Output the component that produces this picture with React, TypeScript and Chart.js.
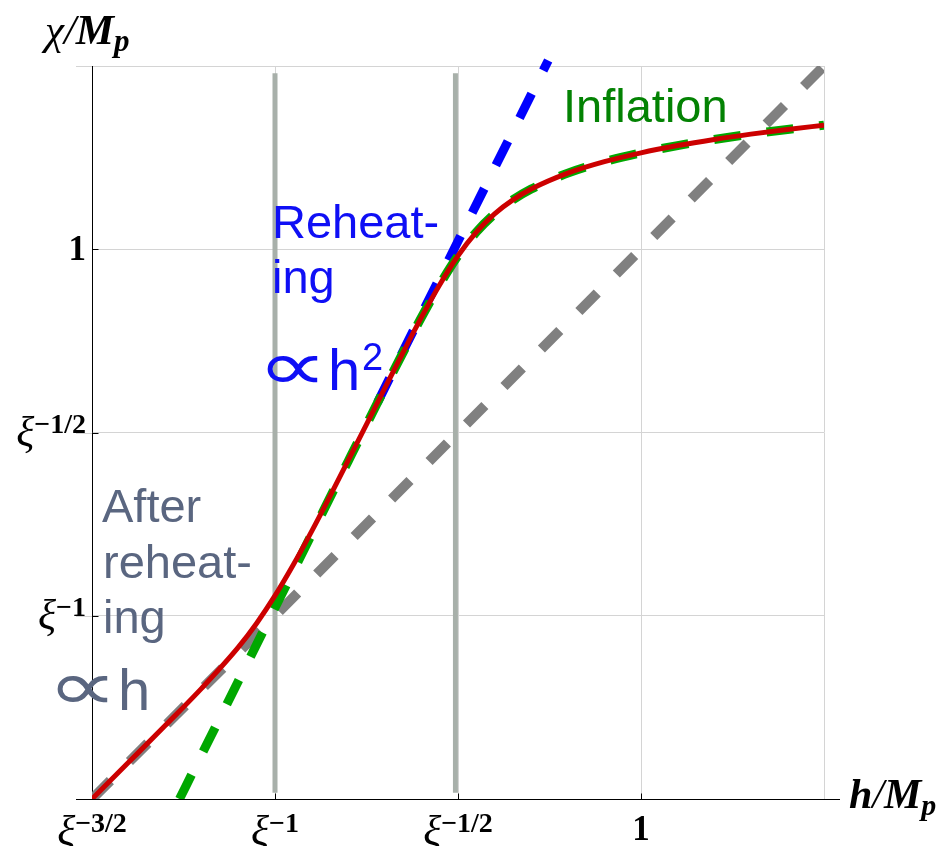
import React, { useEffect, useRef } from "react";
import { Chart, registerables } from "chart.js";
Chart.register(...registerables);

const W = 939;
const H = 846;

// Coordinates are exponents of ξ: value a means ξ^a (in Planck units)
const exactX = [-1.5, -1.4, -1.3, -1.2, -1.1, -1.05, -1.0, -0.95, -0.9, -0.85, -0.8, -0.75, -0.7, -0.65, -0.6, -0.55, -0.5, -0.45, -0.4, -0.35, -0.3, -0.2, -0.1, 0, 0.1, 0.2, 0.3, 0.4, 0.5];
const exactY = [-1.5, -1.4, -1.2996, -1.1974, -1.0857, -1.0203, -0.9453, -0.861, -0.7697, -0.6741, -0.5762, -0.4777, -0.379, -0.2812, -0.186, -0.0967, -0.0178, 0.0468, 0.0967, 0.1348, 0.1643, 0.2077, 0.2389, 0.2631, 0.2829, 0.2996, 0.3141, 0.3269, 0.3383];

const inflX = [-1.261, -1.2, -1.1, -1.0, -0.9, -0.8, -0.75, -0.7, -0.65, -0.6, -0.55, -0.5, -0.45, -0.4, -0.35, -0.3, -0.2, -0.1, 0, 0.1, 0.2, 0.3, 0.4, 0.5];
const inflY = [-1.5, -1.378, -1.178, -0.978, -0.778, -0.5782, -0.4785, -0.3794, -0.2813, -0.1861, -0.0967, -0.0178, 0.0468, 0.0967, 0.1348, 0.1643, 0.2077, 0.2389, 0.2631, 0.2829, 0.2996, 0.3141, 0.3269, 0.3383];

const reheatX = [-0.72, -0.2535];
const reheatY = [-0.418, 0.515];

const linearX = [-1.5, 0.5];
const linearY = [-1.5, 0.5];

const markerX = [-1, -0.507];
const markerYRange = [-1.483, 0.48];

const xTickValues = [-1.5, -1, -0.5, 0];
const xTickLabels = ["ξ^−3/2", "ξ^−1", "ξ^−1/2", "1"];
const yTickValues = [0, -0.5, -1];
const yTickLabels = ["1", "ξ^−1/2", "ξ^−1"];

const SERIF = "'Liberation Serif', 'DejaVu Serif', serif";
const SANS = "'Liberation Sans', Arial, 'DejaVu Sans', sans-serif";
const SYM = "'DejaVu Sans', 'Liberation Sans', sans-serif";

const BLUE_TXT = "#0f0ff5";
const GREEN_TXT = "#038203";
const SLATE_TXT = "#5a6680";

type Ann = { t: string; x: number; y: number; font: string; color: string; w?: number };
const annotations: Ann[] = [
  { t: "Inflation", x: -0.2131, y: 0.3472, font: `47px ${SANS}`, color: GREEN_TXT },
  { t: "Reheat-", x: -1.0082, y: 0.0307, font: `47px ${SANS}`, color: BLUE_TXT },
  { t: "ing", x: -1.0082, y: -0.1194, font: `47px ${SANS}`, color: BLUE_TXT },
  { t: "∝", x: -1.0219, y: -0.384, font: `70px ${SYM}`, color: BLUE_TXT, w: 51 },
  { t: "h", x: -0.8552, y: -0.384, font: `58px ${SANS}`, color: BLUE_TXT },
  { t: "2", x: -0.7623, y: -0.3295, font: `38px ${SANS}`, color: BLUE_TXT },
  { t: "After", x: -1.4727, y: -0.7442, font: `47px ${SANS}`, color: SLATE_TXT },
  { t: "reheat-", x: -1.4699, y: -0.897, font: `47px ${SANS}`, color: SLATE_TXT },
  { t: "ing", x: -1.4699, y: -1.0471, font: `47px ${SANS}`, color: SLATE_TXT },
  { t: "∝", x: -1.5956, y: -1.2572, font: `70px ${SYM}`, color: SLATE_TXT, w: 51 },
  { t: "h", x: -1.429, y: -1.2572, font: `58px ${SANS}`, color: SLATE_TXT },
];

const zip = (xs: number[], ys: number[]) => xs.map((x, i) => ({ x, y: ys[i] }));

type Part = { t: string; font: string; dy?: number };
function drawParts(ctx: CanvasRenderingContext2D, parts: Part[], x: number, y: number, align: "left" | "right" | "center") {
  const widths = parts.map((p) => {
    ctx.font = p.font;
    return ctx.measureText(p.t).width;
  });
  const total = widths.reduce((a, b) => a + b, 0);
  let cx = align === "left" ? x : align === "right" ? x - total : x - total / 2;
  parts.forEach((p, i) => {
    ctx.font = p.font;
    ctx.fillText(p.t, cx, y + (p.dy || 0));
    cx += widths[i];
  });
}

function tickParts(label: string, baseDy: number, expDy: number): Part[] {
  if (label.includes("^")) {
    const [b, e] = label.split("^");
    return [
      { t: b, font: `italic 42px ${SERIF}`, dy: baseDy },
      { t: e, font: `bold 28px ${SERIF}`, dy: expDy },
    ];
  }
  return [{ t: label, font: `bold 35px ${SERIF}`, dy: 0 }];
}

const overlay = {
  id: "overlay",
  beforeDatasetsDraw(chart: any) {
    const { ctx, chartArea } = chart;
    const xs = chart.scales.x;
    const ys = chart.scales.y;
    ctx.save();
    ctx.lineWidth = 1;
    ctx.strokeStyle = "#d4d4d4";
    for (const v of [0.5, -0.5, -1]) {
      const py = Math.round(ys.getPixelForValue(v)) + 0.5;
      ctx.beginPath();
      ctx.moveTo(chartArea.left - 16, py);
      ctx.lineTo(chartArea.left, py);
      ctx.stroke();
    }
    ctx.strokeStyle = "#000";
    const ax = Math.round(chartArea.left) + 0.5;
    const ay = Math.round(chartArea.bottom) + 0.5;
    ctx.beginPath();
    ctx.moveTo(ax, chartArea.top);
    ctx.lineTo(ax, ay);
    ctx.moveTo(chartArea.left - 16, ay);
    ctx.lineTo(chartArea.right + 16, ay);
    for (const v of yTickValues) {
      const py = Math.round(ys.getPixelForValue(v)) + 0.5;
      ctx.moveTo(ax, py);
      ctx.lineTo(ax + 6, py);
    }
    for (const v of xTickValues.slice(1)) {
      const px = Math.round(xs.getPixelForValue(v)) + 0.5;
      ctx.moveTo(px, ay);
      ctx.lineTo(px, ay - 6);
    }
    ctx.stroke();
    ctx.restore();
  },
  afterDatasetsDraw(chart: any) {
    const { ctx, chartArea } = chart;
    const xs = chart.scales.x;
    const ys = chart.scales.y;
    ctx.save();
    ctx.textBaseline = "alphabetic";
    ctx.textAlign = "left";
    for (const a of annotations) {
      ctx.font = a.font;
      ctx.fillStyle = a.color;
      const px = xs.getPixelForValue(a.x);
      const py = ys.getPixelForValue(a.y);
      if (a.w) {
        const m = ctx.measureText(a.t);
        const gw = m.actualBoundingBoxRight + m.actualBoundingBoxLeft;
        const sx = gw > 0 ? a.w / gw : 1;
        ctx.save();
        ctx.translate(px, py);
        ctx.scale(sx, 1);
        ctx.fillText(a.t, m.actualBoundingBoxLeft, 0);
        ctx.restore();
      } else {
        ctx.fillText(a.t, px, py);
      }
    }
    ctx.fillStyle = "#000";
    // y tick labels
    yTickValues.forEach((v, i) => {
      const py = ys.getPixelForValue(v);
      const lab = yTickLabels[i];
      const parts = tickParts(lab, 13, 0);
      drawParts(ctx, parts, chartArea.left - 6, lab.includes("^") ? py : py + 11, "right");
    });
    // x tick labels
    const ab = chartArea.bottom;
    xTickValues.forEach((v, i) => {
      const px = xs.getPixelForValue(v);
      const lab = xTickLabels[i];
      const parts = tickParts(lab, 46, 33);
      drawParts(ctx, parts, px, lab.includes("^") ? ab : ab + 41, "center");
    });
    // axis titles
    drawParts(
      ctx,
      [
        { t: "χ", font: `italic 43px ${SERIF}` },
        { t: "/", font: `italic 43px ${SERIF}` },
        { t: "M", font: `italic bold 43px ${SERIF}` },
        { t: "p", font: `italic bold 31px ${SERIF}`, dy: 7 },
      ],
      45,
      44,
      "left"
    );
    drawParts(
      ctx,
      [
        { t: "h", font: `italic bold 42px ${SERIF}` },
        { t: "/", font: `italic 42px ${SERIF}` },
        { t: "M", font: `italic bold 42px ${SERIF}` },
        { t: "p", font: `italic bold 30px ${SERIF}`, dy: 7 },
      ],
      849,
      808,
      "left"
    );
    ctx.restore();
  },
};

export default function App() {
  const ref = useRef<HTMLCanvasElement | null>(null);
  useEffect(() => {
    if (!ref.current) return;
    const markerDatasets = markerX.map((mx) => ({
      data: zip([mx, mx], markerYRange),
      borderColor: "#a8b0aa",
      borderWidth: 5,
      pointRadius: 0,
      order: 4,
    }));
    const chart = new Chart(ref.current, {
      type: "line",
      data: {
        datasets: [
          {
            data: zip(exactX, exactY),
            borderColor: "#cc0000",
            borderWidth: 5,
            pointRadius: 0,
            cubicInterpolationMode: "monotone",
            order: 0,
          },
          {
            data: zip(inflX, inflY),
            borderColor: "#00a800",
            borderWidth: 9,
            borderDash: [27, 26],
            borderCapStyle: "butt",
            pointRadius: 0,
            cubicInterpolationMode: "monotone",
            order: 1,
          },
          {
            data: zip(reheatX, reheatY),
            borderColor: "#0000ff",
            borderWidth: 9,
            borderDash: [27, 26],
            borderCapStyle: "butt",
            pointRadius: 0,
            clip: 8,
            order: 2,
          },
          {
            data: zip(linearX, linearY),
            borderColor: "#808080",
            borderWidth: 10,
            borderDash: [26, 27],
            borderCapStyle: "butt",
            pointRadius: 0,
            order: 3,
          },
          ...markerDatasets,
        ] as any,
      },
      options: {
        responsive: false,
        animation: false,
        layout: { padding: { left: 92, right: 115, top: 66, bottom: 47 } },
        plugins: { legend: { display: false }, tooltip: { enabled: false } },
        scales: {
          x: {
            type: "linear",
            min: -1.5,
            max: 0.5,
            ticks: { display: false, stepSize: 0.5 },
            grid: { color: "#d4d4d4", lineWidth: 1, drawTicks: false },
            border: { display: false },
            afterFit: (s: any) => {
              s.height = 0;
            },
          },
          y: {
            type: "linear",
            min: -1.5,
            max: 0.5,
            ticks: { display: false, stepSize: 0.5 },
            grid: { color: "#d4d4d4", lineWidth: 1, drawTicks: false },
            border: { display: false },
            afterFit: (s: any) => {
              s.width = 0;
            },
          },
        },
      } as any,
      plugins: [overlay],
    });
    return () => chart.destroy();
  }, []);
  return (
    <div style={{ position: "fixed", left: 0, top: 0, width: W, height: H, background: "#fff" }}>
      <canvas ref={ref} width={W} height={H} style={{ display: "block" }} />
    </div>
  );
}
